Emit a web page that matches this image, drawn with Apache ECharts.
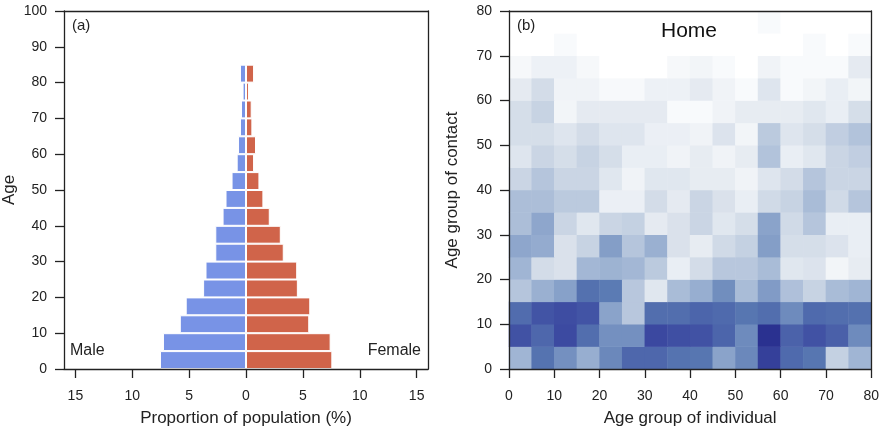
<!DOCTYPE html>
<html>
<head>
<meta charset="utf-8">
<script src="https://cdn.jsdelivr.net/npm/echarts@6/dist/echarts.min.js"></script>
<style>
html,body{margin:0;padding:0;background:#fff;}
#chart{width:882px;height:432px;}
</style>
</head>
<body>
<div id="chart"></div>
<script>
// ---- Panel (a): population pyramid (5-year age bins, 0-85) ----
const ageBins = ['0-5','5-10','10-15','15-20','20-25','25-30','30-35','35-40','40-45','45-50','50-55','55-60','60-65','65-70','70-75','75-80','80-85','85-90','90-95','95-100'];
const male   = [7.56, 7.30, 5.82, 5.30, 3.77, 3.56, 2.70, 2.70, 2.06, 1.80, 1.27, 0.82, 0.70, 0.53, 0.44, 0.30, 0.53];
const female = [7.59, 7.44, 5.56, 5.65, 4.56, 4.50, 3.32, 3.06, 2.09, 1.53, 1.18, 0.71, 0.88, 0.56, 0.50, 0.26, 0.71];
const pyramidTicks = [-15, -10, -5, 0, 5, 10, 15];

// ---- Panel (b): Home contact matrix (individual age group x contact age group) ----
const contactGroups = ['0','5','10','15','20','25','30','35','40','45','50','55','60','65','70','75'];
// rows: contact age group (0-5 first), columns: individual age group
const homeContacts = [
  [3.7,6.2,5.1,4.0,5.4,6.7,6.7,6.2, 6.1,4.4,5.4,8.7,6.6,6.1,2.5,3.7],
  [7.6,6.7,7.9,6.4,5.1,5.1,8.0,7.7, 7.6,6.8,5.3,10.0,6.9,7.6,7.0,5.3],
  [6.5,7.5,7.8,7.5,4.4,2.9,6.4,6.4, 6.8,6.6,6.1,6.4,5.3,6.6,6.4,6.3],
  [3.0,3.9,4.5,6.3,5.9,2.9,1.4,3.4, 4.0,5.2,3.4,4.7,3.2,2.4,3.4,3.7],
  [3.7,2.0,1.7,3.6,3.8,3.6,2.8,1.0, 2.0,2.9,2.9,3.4,1.4,1.6,0.6,1.1],
  [4.3,4.1,1.7,2.4,4.6,3.0,3.9,1.7, 1.1,2.1,2.5,4.6,1.9,1.9,1.6,1.0],
  [3.3,4.3,2.3,1.4,2.3,2.5,1.2,1.7, 2.3,1.4,1.9,4.4,2.1,3.0,1.0,1.0],
  [3.3,3.3,2.8,2.8,0.9,0.9,2.0,1.2, 2.3,1.7,1.0,2.1,2.4,3.4,2.1,3.0],
  [2.3,3.0,2.3,2.3,1.4,0.7,1.4,1.4, 1.1,1.1,0.7,1.5,2.0,3.0,2.3,2.3],
  [1.5,2.3,1.9,2.4,1.9,1.0,1.0,0.7, 1.1,0.7,1.1,3.1,1.0,1.4,2.3,2.6],
  [1.9,1.9,1.5,2.0,1.5,1.5,0.9,0.9, 0.7,1.6,0.6,2.8,1.5,1.9,2.6,3.1],
  [1.9,2.4,0.6,1.2,1.2,1.2,1.2,0.3, 0.3,0.7,1.1,1.1,1.1,1.4,1.0,1.9],
  [1.2,2.0,0.7,0.7,0.35,0.35,0.8,0.8, 1.2,0.7,0.3,1.5,0.3,0.6,1.0,0.6],
  [0.4,0.8,0.8,0.4,0,0,0,0.4, 0.6,0.3,0,0.7,0.3,0.3,0.3,1.2],
  [0,0,0.3,0,0,0,0,0, 0,0,0,0,0,0.3,0,0.3],
  [0,0,0,0,0,0,0,0, 0,0,0,0.3,0,0,0,0]
];

const heatData = [];
homeContacts.forEach((row, r) => row.forEach((v, c) => heatData.push([c, r, v])));

const FONT = '"Liberation Sans", Arial, Helvetica, sans-serif';
const TXT = '#222';
const axisText = {color: TXT, fontSize: 14, fontFamily: FONT};
const nameText = {color: TXT, fontSize: 17, fontFamily: FONT};
const lineStyle = {color: '#222', width: 1.3};
const edgeAxis = {axisLine: {show: true, onZero: false, lineStyle: lineStyle}, axisTick: {show: false}, axisLabel: {show: false}, splitLine: {show: false}, z: 10};

const chart = echarts.init(document.getElementById('chart'), null, {renderer: 'canvas'});
chart.setOption({
  animation: false,
  backgroundColor: '#fff',
  grid: [
    {left: 64, top: 11, width: 364, height: 360},
    {left: 509, top: 11, width: 363, height: 360}
  ],
  xAxis: [
    {type: 'value', gridIndex: 0, min: -16, max: 16, z: 10,
     axisLine: {show: true, onZero: false, lineStyle: lineStyle},
     axisTick: {show: true, length: 9, lineStyle: lineStyle, customValues: pyramidTicks},
     axisLabel: {...axisText, margin: 20, customValues: pyramidTicks, formatter: v => String(Math.abs(v))},
     splitLine: {show: false},
     name: 'Proportion of population (%)', nameLocation: 'middle', nameGap: 41, nameTextStyle: nameText},
    {type: 'value', gridIndex: 1, min: 0, max: 80, interval: 10, z: 10,
     axisLine: {show: true, onZero: false, lineStyle: lineStyle},
     axisTick: {show: true, length: 9, lineStyle: lineStyle},
     axisLabel: {...axisText, margin: 20},
     splitLine: {show: false},
     name: 'Age group of individual', nameLocation: 'middle', nameGap: 41, nameTextStyle: nameText},
    {type: 'category', gridIndex: 1, data: contactGroups, show: false},
    {type: 'value', gridIndex: 0, position: 'top', min: 0, max: 1, ...edgeAxis},
    {type: 'value', gridIndex: 1, position: 'top', min: 0, max: 1, ...edgeAxis}
  ],
  yAxis: [
    {type: 'value', gridIndex: 0, min: 0, max: 100, interval: 10, z: 10,
     axisLine: {show: true, onZero: false, lineStyle: lineStyle},
     axisTick: {show: true, length: 9, lineStyle: lineStyle},
     axisLabel: {...axisText, margin: 17},
     splitLine: {show: false},
     name: 'Age', nameLocation: 'middle', nameGap: 46, nameRotate: 90, nameTextStyle: nameText},
    {type: 'category', gridIndex: 0, data: ageBins, show: false},
    {type: 'value', gridIndex: 1, min: 0, max: 80, interval: 10, z: 10,
     axisLine: {show: true, onZero: false, lineStyle: lineStyle},
     axisTick: {show: true, length: 9, lineStyle: lineStyle},
     axisLabel: {...axisText, margin: 17},
     splitLine: {show: false},
     name: 'Age group of contact', nameLocation: 'middle', nameGap: 48, nameRotate: 90, nameTextStyle: nameText},
    {type: 'category', gridIndex: 1, data: contactGroups, show: false},
    {type: 'value', gridIndex: 0, position: 'right', min: 0, max: 1, ...edgeAxis},
    {type: 'value', gridIndex: 1, position: 'right', min: 0, max: 1, ...edgeAxis}
  ],
  visualMap: {
    show: false, type: 'continuous', min: 0, max: 10, dimension: 2, seriesIndex: 2,
    inRange: {color: ['#ffffff', '#d3dce8', '#97aed0', '#5878b2', '#3b48a0', '#2a3190']}
  },
  series: [
    {name: 'Male', type: 'bar', xAxisIndex: 0, yAxisIndex: 1, z: 1,
     data: male.map(v => -v), barCategoryGap: 0, barGap: '-100%',
     itemStyle: {color: '#7893e6', borderColor: '#fff', borderWidth: 1}},
    {name: 'Female', type: 'bar', xAxisIndex: 0, yAxisIndex: 1, z: 1,
     data: female, barCategoryGap: 0, barGap: '-100%',
     itemStyle: {color: '#d0644a', borderColor: '#fff', borderWidth: 1}},
    {name: 'Home', type: 'heatmap', xAxisIndex: 2, yAxisIndex: 3, data: heatData, z: 1,
     itemStyle: {borderWidth: 0}}
  ],
  graphic: [
    {type: 'text', z: 100, left: 72, top: 18, style: {text: '(a)', fill: TXT, font: '15px ' + FONT}},
    {type: 'text', z: 100, left: 70, top: 343, style: {text: 'Male', fill: TXT, font: '16px ' + FONT}},
    {type: 'text', z: 100, right: 461, top: 343, style: {text: 'Female', fill: TXT, font: '16px ' + FONT}},
    {type: 'text', z: 100, left: 517, top: 18, style: {text: '(b)', fill: TXT, font: '15px ' + FONT}},
    {type: 'text', z: 100, left: 661, top: 21, style: {text: 'Home', fill: '#111', font: '21px ' + FONT}}
  ]
});
</script>
</body>
</html>
